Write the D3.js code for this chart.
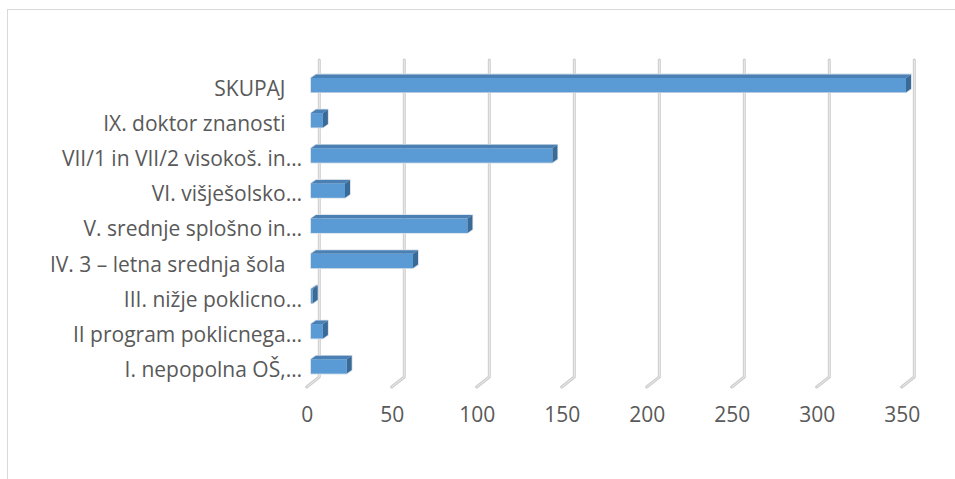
<!DOCTYPE html>
<html>
<head>
<meta charset="utf-8">
<script src="https://cdn.jsdelivr.net/npm/d3@7"></script>
<style>
body { margin:0; background:#ffffff; }
svg text { font-family:"Open Sans", sans-serif; fill:#595959; }
</style>
</head>
<body>
<svg></svg>
<script>

var categories = ["I. nepopolna OŠ,…",
                  "II program poklicnega…",
                  "III. nižje poklicno…",
                  "IV. 3 – letna srednja šola",
                  "V. srednje splošno in…",
                  "VI. višješolsko…",
                  "VII/1 in VII/2 visokoš. in…",
                  "IX. doktor znanosti",
                  "SKUPAJ"]

var values = [21, 7, 1, 60, 92, 20, 142, 7, 350]

var tickValues = [0, 50, 100, 150, 200, 250, 300, 350]


var screen = {width:955,height:479}
var depth = {dx:5,dy:-3.5}       // bar top / side face offset
var wall = {dx:8.3}              // back wall relative to bar face
var floor = {dx:-12.6,dy:10}     // floor edge from back wall to front

var svg = d3.select("svg")
    .attr("width",screen.width)
    .attr("height",screen.height)

// chart border (right and bottom edges fall outside the picture)
svg.append("rect")
    .attr("x",7.5)
    .attr("y",9.5)
    .attr("width",1000)
    .attr("height",1000)
    .attr("fill","none")
    .attr("stroke","#d9d9d9")
    .attr("stroke-width",1)

var xScale = d3.scaleLinear()
                .domain([0,350])
                .range([311,906])

var yScale = d3.scaleBand()
                .domain(categories.slice().reverse())
                .range([60,376.5])

var floorY = 377

// gridlines: back wall line plus a short floor segment to the front
var grid = svg.append("g").attr("id","grid")

var gridPath = function(v)
    {
        var x = xScale(v) + wall.dx
        return "M"+x+","+yScale.range()[0]+
               "L"+x+","+floorY+
               "L"+(x+floor.dx)+","+(floorY+floor.dy)
    }

grid.selectAll("path.outer")
    .data(tickValues)
    .enter()
    .append("path")
    .classed("outer",true)
    .attr("d",gridPath)
    .attr("fill","none")
    .attr("stroke","#cdcdcd")
    .attr("stroke-width",3)
    .attr("stroke-linejoin","round")
    .attr("stroke-linecap","round")

grid.selectAll("path.inner")
    .data(tickValues)
    .enter()
    .append("path")
    .classed("inner",true)
    .attr("d",gridPath)
    .attr("fill","none")
    .attr("stroke","#ececec")
    .attr("stroke-width",1)
    .attr("stroke-linejoin","round")

// value axis labels on the front edge of the floor
var xAxis = d3.axisBottom(xScale)
                .tickValues(tickValues)
                .tickSize(0)
                .tickPadding(0)

svg.append("g")
    .attr("id","xAxis")
    .attr("transform","translate("+(wall.dx+floor.dx)+",407.5)")
    .call(xAxis)
    .call(function(g){ g.select(".domain").remove() })
    .selectAll("text")
    .attr("font-size","21px")
    .attr("font-family","Open Sans")
    .attr("fill","#595959")

// category labels
var bandTop = function(name)
    {
        return yScale(name) + yScale.step()/2 + 0.3
    }

svg.append("g")
    .attr("id","yAxis")
    .selectAll("text")
    .data(categories)
    .enter()
    .append("text")
    .attr("x",function(name)
        {
            // truncated labels sit closer to the axis
            return name.slice(-1) == "…" ? 302 : 285.5
        })
    .attr("y",function(name){ return bandTop(name) + 17.8 })
    .attr("text-anchor","end")
    .attr("font-size","21px")
    .text(function(name){ return name })

// 3d bars
var barHeight = 14.4

var bars = svg.append("g")
    .attr("id","bars")
    .selectAll("g")
    .data(values)
    .enter()
    .append("g")

// faint halo round each bar
bars.append("path")
    .attr("d",function(v,i)
        {
            var x0 = xScale(0), x1 = xScale(v), y = bandTop(categories[i])
            return "M"+x0+","+y+
                   "L"+(x0+depth.dx)+","+(y+depth.dy)+
                   "L"+(x1+depth.dx)+","+(y+depth.dy)+
                   "L"+(x1+depth.dx)+","+(y+depth.dy+barHeight)+
                   "L"+x1+","+(y+barHeight)+
                   "L"+x0+","+(y+barHeight)+"Z"
        })
    .attr("fill","none")
    .attr("stroke","#d4dde6")
    .attr("stroke-width",1.6)
    .attr("stroke-linejoin","round")

bars.append("rect")
    .attr("x",xScale(0))
    .attr("y",function(v,i){ return bandTop(categories[i]) })
    .attr("width",function(v){ return xScale(v) - xScale(0) })
    .attr("height",barHeight)
    .attr("fill","#5b9bd5")

bars.append("path")
    .attr("d",function(v,i)
        {
            var x0 = xScale(0), x1 = xScale(v), y = bandTop(categories[i])
            return "M"+x0+","+y+
                   "L"+(x0+depth.dx)+","+(y+depth.dy)+
                   "L"+(x1+depth.dx)+","+(y+depth.dy)+
                   "L"+x1+","+y+"Z"
        })
    .attr("fill","#4a80b4")

bars.append("path")
    .attr("d",function(v,i)
        {
            var x1 = xScale(v), y = bandTop(categories[i])
            return "M"+x1+","+y+
                   "L"+(x1+depth.dx)+","+(y+depth.dy)+
                   "L"+(x1+depth.dx)+","+(y+depth.dy+barHeight)+
                   "L"+x1+","+(y+barHeight)+"Z"
        })
    .attr("fill","#3a6a96")

</script>
</body>
</html>
